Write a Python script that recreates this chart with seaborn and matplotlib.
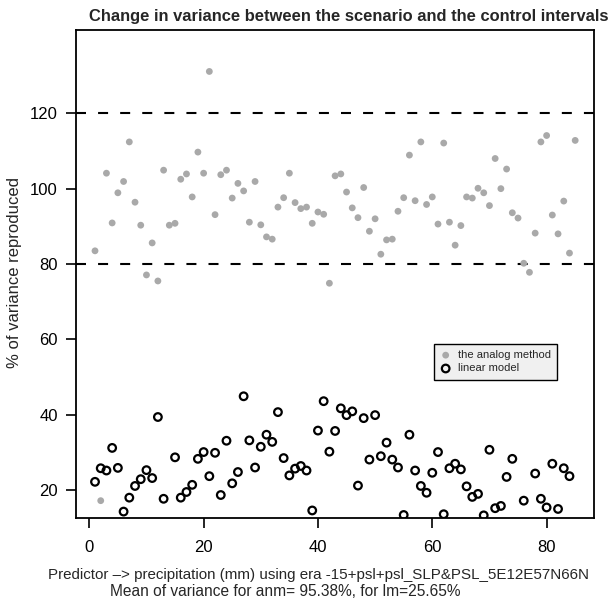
import numpy as np
import pandas as pd
import matplotlib
matplotlib.use("Agg")
import matplotlib.pyplot as plt
import seaborn as sns

# ---- data ----
index = list(range(1, 86))
analog_method = [
    83.5, 17.2, 104.1, 90.9, 98.9, 101.9, 112.4, 96.4, 90.3, 77.1,
    85.6, 75.5, 104.9, 90.3, 90.8, 102.5, 103.9, 97.8, 109.7, 104.1,
    131.1, 93.1, 103.7, 104.9, 97.5, 101.4, 99.4, 91.1, 101.9, 90.4,
    87.2, 86.6, 95.1, 97.6, 104.1, 96.3, 94.7, 95.1, 90.8, 93.8,
    93.2, 74.9, 103.4, 103.9, 99.1, 94.9, 92.3, 100.3, 88.7, 92.0,
    82.6, 86.4, 86.6, 94.0, 97.6, 108.9, 96.8, 112.4, 95.8, 97.8,
    90.6, 112.1, 91.1, 85.0, 90.2, 97.8, 97.5, 100.1, 98.9, 95.5,
    108.0, 100.0, 105.2, 93.6, 92.2, 80.2, 77.8, 88.2, 112.4, 114.1,
    93.0, 88.0, 96.7, 82.9, 112.8,
]
linear_model = [
    22.2, 25.8, 25.2, 31.2, 25.9, 14.3, 18.0, 21.1, 22.9, 25.3,
    23.2, 39.4, 17.7, np.nan, 28.7, 18.0, 19.5, 21.4, 28.3, 30.1,
    23.7, 29.9, 18.7, 33.1, 21.8, 24.8, 44.9, 33.2, 26.0, 31.5,
    34.7, 32.8, 40.7, 28.5, 23.9, 25.7, 26.4, 25.2, 14.6, 35.8,
    43.6, 30.2, 35.7, 41.7, 39.9, 40.9, 21.2, 39.1, 28.1, 39.9,
    29.0, 32.6, 28.1, 26.0, 13.4, 34.7, 25.2, 21.1, 19.3, 24.6,
    30.1, 13.6, 25.8, 27.0, 25.5, 21.0, 18.2, 19.0, 13.3, 30.7,
    15.2, 15.8, 23.5, 28.3, np.nan, 17.2, np.nan, 24.4, 17.7, 15.4,
    27.0, 15.0, 25.8, 23.7, np.nan,
]
series_names = ["the analog method", "linear model"]
reference_lines = [80, 120]
x_ticks = [0, 20, 40, 60, 80]
y_ticks = [20, 40, 60, 80, 100, 120]

title = "Change in variance between the scenario and the control intervals"
xlabel_1 = "Predictor \u2013> precipitation (mm) using era -15+psl+psl_SLP&PSL_5E12E57N66N"
xlabel_2 = "Mean of variance for anm= 95.38%, for lm=25.65%"
ylabel = "% of variance reproduced"

df_an = pd.DataFrame({"index": index, "value": analog_method, "series": series_names[0]})
df_lm = pd.DataFrame({"index": index, "value": linear_model, "series": series_names[1]})

sns.set_style("white")
plt.rcParams["font.family"] = ["Liberation Sans", "DejaVu Sans"]

fig = plt.figure(figsize=(6.11, 6.02), dpi=100)
W, H = 611, 602
left, right, top, bottom = 75.8, 594.4, 30, 518
ax = fig.add_axes([left / W, 1 - bottom / H, (right - left) / W, (bottom - top) / H])

sns.scatterplot(data=df_an, x="index", y="value", ax=ax, color="#a9a9a9",
                s=24, edgecolor="none", linewidth=0, label=series_names[0], zorder=3)
sns.scatterplot(data=df_lm, x="index", y="value", ax=ax, facecolor="none",
                edgecolor="black", s=30, linewidth=1.6, marker="o",
                label=series_names[1], zorder=3)

for yv in reference_lines:
    ax.axhline(yv, color="black", lw=1.5, linestyle=(0, (4.8, 5.8)), zorder=2)

ax.set_xlim(-2.36, 88.36)
ax.set_ylim(12.6, 142.1)
ax.set_xticks(x_ticks)
ax.set_yticks(y_ticks)
ax.tick_params(axis="both", direction="out", length=7, width=1.2, labelsize=12,
               bottom=True, left=True, colors="black")
ax.tick_params(axis="x", pad=9)
ax.tick_params(axis="y", pad=6)
for sp in ax.spines.values():
    sp.set_visible(True)
    sp.set_color("black")
    sp.set_linewidth(1.3)
ax.set_xlabel("")
ax.set_ylabel("")

leg = ax.legend(loc="upper left", bbox_to_anchor=(0.68, 0.368), fontsize=8,
                frameon=True, fancybox=False, framealpha=1, borderpad=0.55,
                handletextpad=0.6, handlelength=1.0, labelspacing=0.3)
leg.get_frame().set_facecolor("#f0f0f0")
leg.get_frame().set_edgecolor("black")
leg.get_frame().set_linewidth(1.0)

fig.text(349 / W, 1 - 17 / H, title, ha="center", va="center", fontsize=11.9, fontweight="bold")
fig.text(319 / W, 1 - 575 / H, xlabel_1, ha="center", va="center", fontsize=10.9)
fig.text(285 / W, 1 - 591 / H, xlabel_2, ha="center", va="center", fontsize=11.2)
fig.text(15 / W, 1 - 273 / H, ylabel, ha="center", va="center", rotation=90, fontsize=12)

fig.savefig("out.png", dpi=100)
